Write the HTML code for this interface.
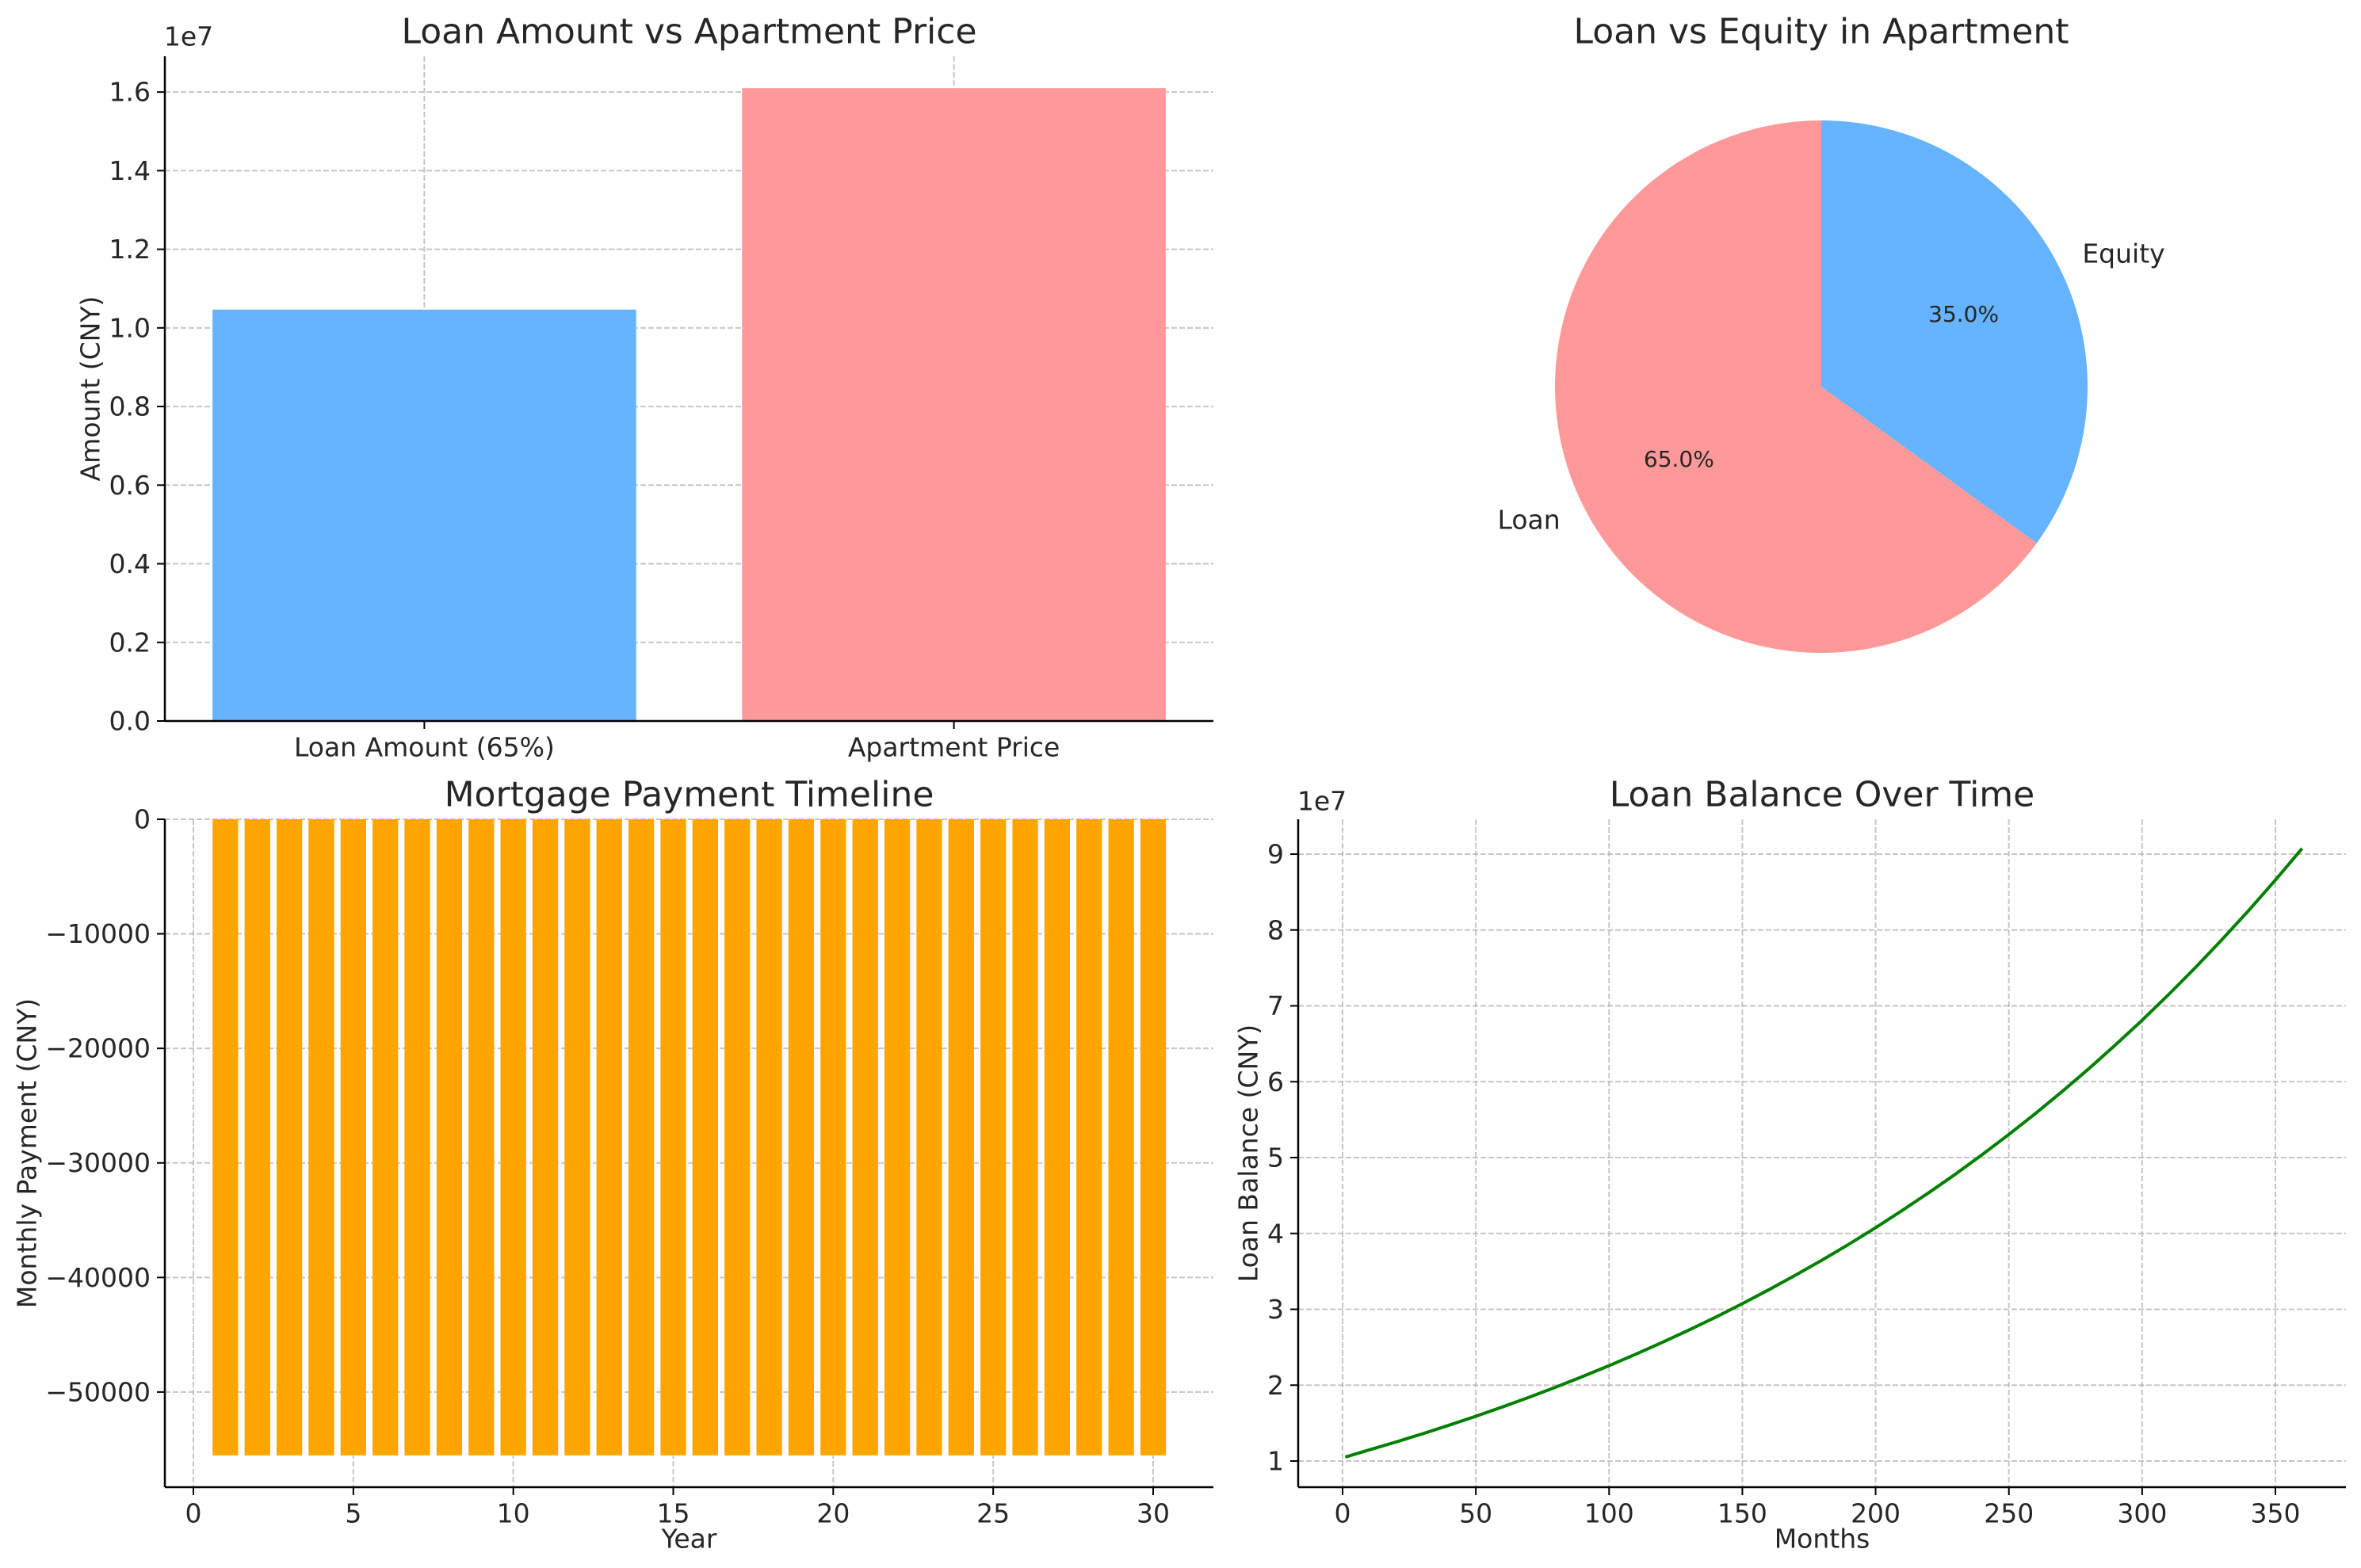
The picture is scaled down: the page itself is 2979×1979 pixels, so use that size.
<!DOCTYPE html>
<html><head><meta charset="utf-8"><style>
html,body{margin:0;padding:0;background:#fff}
svg{display:block;font-family:"DejaVu Sans","Liberation Sans",sans-serif}
</style></head><body>
<svg id="fig" width="2979" height="1979" viewBox="0 0 2979 1979" xmlns="http://www.w3.org/2000/svg"></svg>
<script>
// ---- Data ----
const barCategories = ["Loan Amount (65%)", "Apartment Price"];
const barValues = [10465000, 16100000];
const barColors = ["#66b3ff", "#ff9999"];
const barYTicks = [0, 0.2e7, 0.4e7, 0.6e7, 0.8e7, 1.0e7, 1.2e7, 1.4e7, 1.6e7];
const barYTickLabels = ["0.0","0.2","0.4","0.6","0.8","1.0","1.2","1.4","1.6"];

const pieLabels = ["Loan", "Equity"];
const pieValues = [65, 35];
const piePctLabels = ["65.0%", "35.0%"];
const pieColors = ["#ff9999", "#66b3ff"];

const years = [1,2,3,4,5,6,7,8,9,10,11,12,13,14,15,16,17,18,19,20,21,22,23,24,25,26,27,28,29,30];
const payments = [-55530,-55530,-55530,-55530,-55530,-55530,-55530,-55530,-55530,-55530,-55530,-55530,-55530,-55530,-55530,-55530,-55530,-55530,-55530,-55530,-55530,-55530,-55530,-55530,-55530,-55530,-55530,-55530,-55530,-55530];
const payYTicks = [0,-10000,-20000,-30000,-40000,-50000];
const payYTickLabels = ["0","\u221210000","\u221220000","\u221230000","\u221240000","\u221250000"];
const payXTicks = [0,5,10,15,20,25,30];

const months = [1,10,20,30,40,50,60,70,80,90,100,110,120,130,140,150,160,170,180,190,200,210,220,230,240,250,260,270,280,290,300,310,320,330,340,350,360];
const balances = [10.52,11.47,12.51,13.59,14.73,15.90,17.13,18.41,19.74,21.13,22.57,24.08,25.64,27.27,28.97,30.74,32.59,34.51,36.51,38.59,40.76,43.03,45.38,47.83,50.39,53.05,55.82,58.71,61.72,64.85,68.11,71.51,75.05,78.74,82.58,86.58,90.74];
const balYTicks = [1,2,3,4,5,6,7,8,9];
const balXTicks = [0,50,100,150,200,250,300,350];

// ---- Helpers ----
const NS = "http://www.w3.org/2000/svg";
const svg = document.getElementById("fig");
const TXT = "#262626";
function mk(tag, attrs, parent) {
  const e = document.createElementNS(NS, tag);
  for (const k in attrs) e.setAttribute(k, attrs[k]);
  (parent || svg).appendChild(e);
  return e;
}
function text(str, x, y, size, anchor, parent, rot) {
  const t = mk("text", {x:x, y:y, "font-size":size, fill:TXT, "text-anchor":anchor||"middle", "dominant-baseline":"central"}, parent);
  if (rot) t.setAttribute("transform", "rotate(" + rot + " " + x + " " + y + ")");
  t.textContent = str;
  return t;
}
function lin(d0, d1, p0, p1) { return v => p0 + (v - d0) * (p1 - p0) / (d1 - d0); }
const GRID = {stroke:"#b0b0b0", "stroke-width":2, "stroke-dasharray":"7,3", opacity:0.7};
function axesFrame(g, L, R, T, B) {
  mk("line", {x1:L, y1:T, x2:L, y2:B, stroke:"#000", "stroke-width":2.5}, g);
  mk("line", {x1:L, y1:B, x2:R, y2:B, stroke:"#000", "stroke-width":2.5}, g);
}
function yTick(g, L, y, label) {
  mk("line", {x1:L-10, y1:y, x2:L, y2:y, stroke:"#000", "stroke-width":2}, g);
  const t = text(label, L-18, y, 33, "end", g);
  
  
}
function xTick(g, B, x, label) {
  mk("line", {x1:x, y1:B, x2:x, y2:B+10, stroke:"#000", "stroke-width":2}, g);
  const t = text(label, x, B+33, 33, "middle", g);
  
  
}

// ---- Chart 1: bar ----
(function(){
  const g = mk("g", {});
  
  
  const L=208, R=1531, T=71, B=910;
  const x = lin(-0.49, 1.49, L, R);
  const y = lin(0, 1.691e7, B, T);
  barYTicks.forEach(v => mk("line", Object.assign({x1:L, x2:R, y1:y(v), y2:y(v)}, GRID), g));
  barCategories.forEach((c,i) => mk("line", Object.assign({x1:x(i), x2:x(i), y1:T, y2:B}, GRID), g));
  barValues.forEach((v,i) => {
    const r = mk("rect", {x:x(i-0.4), y:y(v), width:x(i+0.4)-x(i-0.4), height:y(0)-y(v), fill:barColors[i]}, g);
    
    
  });
  axesFrame(g, L, R, T, B);
  barYTicks.forEach((v,i) => yTick(g, L, y(v), barYTickLabels[i]));
  barCategories.forEach((c,i) => xTick(g, B, x(i), c));
  const e = text("1e7", L+30, 46, 33, "middle", g);  
  const t = text("Loan Amount vs Apartment Price", (L+R)/2, 40, 44, "middle", g);  
  const yl = text("Amount (CNY)", 114, (T+B)/2, 33, "middle", g, -90);  
})();

// ---- Chart 2: pie ----
(function(){
  const g = mk("g", {});
  
  
  const cx=2298, cy=488, r=336;
  const total = pieValues.reduce((a,b)=>a+b,0);
  let ang = 90;
  pieValues.forEach((v,i) => {
    const sweep = v/total*360;
    const a0 = ang*Math.PI/180, a1 = (ang+sweep)*Math.PI/180;
    const x0 = cx + r*Math.cos(a0), y0 = cy - r*Math.sin(a0);
    const x1 = cx + r*Math.cos(a1), y1 = cy - r*Math.sin(a1);
    const large = sweep > 180 ? 1 : 0;
    const p = mk("path", {d:`M${cx},${cy} L${x0},${y0} A${r},${r} 0 ${large} 0 ${x1},${y1} Z`, fill:pieColors[i]}, g);
    
    
    const mid = (ang + sweep/2)*Math.PI/180;
    const lt = text(pieLabels[i], cx + 1.1*r*Math.cos(mid), cy - 1.1*r*Math.sin(mid), 33, Math.cos(mid) < 0 ? "end" : "start", g);
    
    
    const pt = text(piePctLabels[i], cx + 0.6*r*Math.cos(mid), cy - 0.6*r*Math.sin(mid), 28, "middle", g);
    
    
    ang += sweep;
  });
  const t = text("Loan vs Equity in Apartment", cx, 40, 44, "middle", g);  
})();

// ---- Chart 3: payments ----
(function(){
  const g = mk("g", {});
  
  
  const L=208, R=1531, T=1034, B=1877;
  const x = lin(0, 30, 244, 1455);
  const y = lin(0, -58307, T, B);
  payYTicks.forEach(v => mk("line", Object.assign({x1:L, x2:R, y1:y(v), y2:y(v)}, GRID), g));
  payXTicks.forEach(v => mk("line", Object.assign({x1:x(v), x2:x(v), y1:T, y2:B}, GRID), g));
  years.forEach((yr,i) => {
    const v = payments[i];
    const r = mk("rect", {x:x(yr-0.4), y:y(Math.max(0,v)), width:x(yr+0.4)-x(yr-0.4), height:Math.abs(y(v)-y(0)), fill:"#ffa500"}, g);
    
    
  });
  axesFrame(g, L, R, T, B);
  payYTicks.forEach((v,i) => yTick(g, L, y(v), payYTickLabels[i]));
  payXTicks.forEach(v => xTick(g, B, x(v), String(v)));
  const t = text("Mortgage Payment Timeline", (L+R)/2, 1003, 44, "middle", g);  
  const xl = text("Year", (L+R)/2, 1942, 33, "middle", g);  
  const yl = text("Monthly Payment (CNY)", 34, (T+B)/2, 33, "middle", g, -90);  
})();

// ---- Chart 4: balance ----
(function(){
  const g = mk("g", {});
  
  
  const L=1638, R=2960, T=1034, B=1877;
  const x = lin(0, 350, 1694, 2871);
  const y = lin(1, 9, 1844, 1078);
  balYTicks.forEach(v => mk("line", Object.assign({x1:L, x2:R, y1:y(v), y2:y(v)}, GRID), g));
  balXTicks.forEach(v => mk("line", Object.assign({x1:x(v), x2:x(v), y1:T, y2:B}, GRID), g));
  const pts = months.map((m,i) => x(m).toFixed(1) + "," + y(balances[i]/10).toFixed(1)).join(" ");
  const pl = mk("polyline", {points:pts, fill:"none", stroke:"#008000", "stroke-width":4, "stroke-linejoin":"round"}, g);
  
  
  axesFrame(g, L, R, T, B);
  balYTicks.forEach(v => yTick(g, L, y(v), String(v)));
  balXTicks.forEach(v => xTick(g, B, x(v), String(v)));
  const e = text("1e7", L+30, 1011, 33, "middle", g);  
  const t = text("Loan Balance Over Time", (L+R)/2, 1003, 44, "middle", g);  
  const xl = text("Months", (L+R)/2, 1942, 33, "middle", g);  
  const yl = text("Loan Balance (CNY)", 1575, (T+B)/2, 33, "middle", g, -90);  
})();
</script>
</body></html>
